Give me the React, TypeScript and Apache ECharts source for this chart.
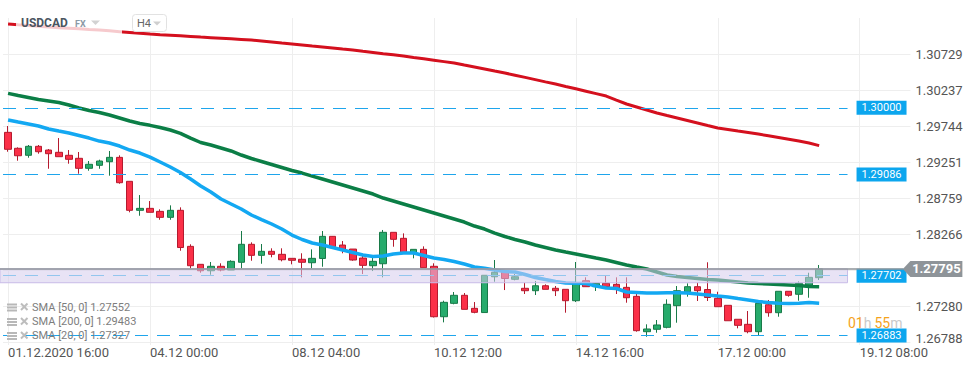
import React, { useEffect, useRef } from 'react';
import * as echarts from 'echarts';

const FONT = 'Roboto, "Noto Sans", sans-serif';

// x axis: H4 candle index, labelled every 14 candles
const xTickIdx = [0, 14, 28, 42, 56, 70, 84];
const xTickLabels = ['01.12.2020 16:00', '04.12 00:00', '08.12 04:00', '10.12 12:00', '14.12 16:00', '17.12 00:00', '19.12 08:00'];

// y axis tick labels
const yTicks = [1.26788, 1.2728, 1.27773, 1.28266, 1.28759, 1.29251, 1.29744, 1.30237, 1.30729];
const hiddenTick = 1.27773;

// candles
const open = [1.29664, 1.29446, 1.2935, 1.29473, 1.29422, 1.29391, 1.2935, 1.29309, 1.29172, 1.29213,
  1.29262, 1.29322, 1.28994, 1.28597, 1.28624, 1.28583, 1.28501, 1.28597, 1.28104, 1.27858,
  1.2777, 1.27831, 1.2778, 1.27886, 1.28132, 1.27981, 1.28036, 1.27995, 1.2794, 1.27927,
  1.2788, 1.27938, 1.28241, 1.28122, 1.28067, 1.27944, 1.27839, 1.27866, 1.28296, 1.28214,
  1.28009, 1.28063, 1.27831, 1.27141, 1.27324, 1.27434, 1.27256, 1.27198, 1.27688, 1.27749,
  1.27653, 1.2753, 1.27497, 1.27565, 1.2753, 1.27516, 1.2736, 1.27634, 1.27552, 1.27598,
  1.27584, 1.27543, 1.2742, 1.26936, 1.26969, 1.26996, 1.27292, 1.27483, 1.27552, 1.27513,
  1.27393, 1.27297, 1.27106, 1.27037, 1.26936, 1.27305, 1.27196, 1.27489, 1.27448, 1.27575,
  1.27675];
const close = [1.29432, 1.29344, 1.29473, 1.29399, 1.29372, 1.29331, 1.29295, 1.29172, 1.29227, 1.29272,
  1.29322, 1.28975, 1.28597, 1.28624, 1.2857, 1.28501, 1.28597, 1.28088, 1.27839, 1.2777,
  1.27831, 1.2778, 1.27899, 1.28132, 1.27981, 1.28036, 1.27995, 1.27921, 1.27913, 1.27886,
  1.2794, 1.28241, 1.28099, 1.28061, 1.27917, 1.27844, 1.27899, 1.28296, 1.282, 1.28009,
  1.28063, 1.27812, 1.27141, 1.27338, 1.27434, 1.27242, 1.27201, 1.27708, 1.27749, 1.27664,
  1.27688, 1.27497, 1.27565, 1.27516, 1.27497, 1.2736, 1.27606, 1.27552, 1.27598, 1.27552,
  1.2753, 1.27401, 1.2695, 1.26973, 1.27028, 1.27311, 1.27497, 1.27552, 1.27497, 1.27404,
  1.27278, 1.27086, 1.27023, 1.26936, 1.27324, 1.27196, 1.27489, 1.27434, 1.27598, 1.2768,
  1.27795];
const low = [1.29399, 1.29276, 1.29317, 1.29372, 1.29166, 1.29331, 1.29235, 1.29098, 1.29139, 1.29166,
  1.29071, 1.28961, 1.2857, 1.28523, 1.2857, 1.28468, 1.28468, 1.28044, 1.27801, 1.27743,
  1.27716, 1.27762, 1.2778, 1.27803, 1.27907, 1.27866, 1.27954, 1.27899, 1.27858, 1.2768,
  1.27803, 1.27825, 1.28088, 1.28009, 1.27907, 1.27725, 1.27766, 1.2768, 1.28099, 1.28009,
  1.2794, 1.27812, 1.2713, 1.27064, 1.27311, 1.27242, 1.27188, 1.27198, 1.2762, 1.27506,
  1.27639, 1.27452, 1.27438, 1.27516, 1.27424, 1.27196, 1.27342, 1.27552, 1.27493, 1.27552,
  1.27452, 1.27333, 1.26936, 1.26867, 1.26922, 1.26982, 1.27059, 1.27415, 1.27356, 1.27356,
  1.27278, 1.27086, 1.26982, 1.26914, 1.26881, 1.27141, 1.27141, 1.27415, 1.2736, 1.27401,
  1.27643];
const high = [1.29751, 1.29459, 1.29491, 1.29491, 1.29436, 1.29586, 1.29422, 1.29395, 1.29272, 1.2929,
  1.29409, 1.2935, 1.28994, 1.28806, 1.28724, 1.28611, 1.28665, 1.28638, 1.28132, 1.27858,
  1.2789, 1.27872, 1.27913, 1.28314, 1.28159, 1.28136, 1.28077, 1.28077, 1.2794, 1.28009,
  1.28063, 1.28314, 1.28245, 1.28177, 1.28067, 1.27972, 1.27944, 1.28328, 1.28296, 1.28282,
  1.28063, 1.28104, 1.27872, 1.2736, 1.27479, 1.27465, 1.27342, 1.27708, 1.27917, 1.27749,
  1.27725, 1.27606, 1.2763, 1.27584, 1.27561, 1.27516, 1.2789, 1.2768, 1.27598, 1.27712,
  1.2768, 1.2768, 1.27452, 1.27037, 1.27096, 1.27379, 1.27561, 1.27598, 1.27606, 1.27886,
  1.27483, 1.27297, 1.27106, 1.27219, 1.2737, 1.2737, 1.27489, 1.27489, 1.27625, 1.27743,
  1.27849];

// moving averages
const sma20 = [1.29833, 1.29805, 1.29778, 1.29751, 1.2971, 1.29682, 1.29655, 1.29621, 1.29586, 1.29545,
  1.29518, 1.29477, 1.29422, 1.29381, 1.29326, 1.29258, 1.2919, 1.29114, 1.29025, 1.2893,
  1.28847, 1.28752, 1.28683, 1.28615, 1.28533, 1.28471, 1.2841, 1.28341, 1.28259, 1.28198,
  1.2815, 1.28122, 1.28088, 1.28054, 1.2802, 1.27985, 1.27965, 1.27972, 1.27999, 1.28013,
  1.28013, 1.27979, 1.27944, 1.27924, 1.27896, 1.27862, 1.27821, 1.27803, 1.2778, 1.2776,
  1.27753, 1.27719, 1.27678, 1.2765, 1.27623, 1.27602, 1.27598, 1.27595, 1.27561, 1.27534,
  1.27527, 1.27479, 1.27472, 1.27465, 1.27465, 1.2747, 1.2747, 1.27465, 1.27452, 1.27438,
  1.27424, 1.27411, 1.2739, 1.2737, 1.27349, 1.27335, 1.27324, 1.27322, 1.27324, 1.27335,
  1.27327];
const sma50 = [1.30198, 1.30168, 1.30141, 1.30113, 1.30093, 1.30072, 1.30038, 1.29997, 1.29963, 1.29935,
  1.29901, 1.2986, 1.29819, 1.29785, 1.2976, 1.2973, 1.29696, 1.29651, 1.29586, 1.29525,
  1.29491, 1.2945, 1.29409, 1.29354, 1.29306, 1.29265, 1.29224, 1.29183, 1.29142, 1.29107,
  1.29066, 1.29025, 1.28984, 1.28943, 1.28902, 1.28861, 1.2882, 1.28765, 1.28724, 1.28683,
  1.28642, 1.28601, 1.2856, 1.28519, 1.28478, 1.28437, 1.28382, 1.28341, 1.28286, 1.28239,
  1.28198, 1.28163, 1.28122, 1.28088, 1.28054, 1.28026, 1.27999, 1.27972, 1.27944, 1.27917,
  1.27883, 1.27849, 1.27821, 1.27794, 1.27753, 1.27712, 1.27691, 1.27678, 1.27664, 1.2765,
  1.27643, 1.2763, 1.27616, 1.27602, 1.27595, 1.27589, 1.27582, 1.27575, 1.27568, 1.27554,
  1.27552];
const sma200 = [1.31146, 1.31135, 1.31126, 1.31115, 1.31105, 1.31097, 1.31089, 1.31081, 1.31072, 1.31064,
  1.31053, 1.31042, 1.31031, 1.3102, 1.3101, 1.31001, 1.30993, 1.30985, 1.30977, 1.30968,
  1.3096, 1.30952, 1.30944, 1.30936, 1.30927, 1.30914, 1.309, 1.30886, 1.30873, 1.30859,
  1.30845, 1.30832, 1.30818, 1.30804, 1.30791, 1.30774, 1.30758, 1.30741, 1.30725, 1.30709,
  1.30689, 1.3067, 1.30651, 1.30632, 1.30613, 1.30585, 1.30558, 1.30531, 1.30503, 1.30476,
  1.30446, 1.30416, 1.30386, 1.30355, 1.30325, 1.30292, 1.3026, 1.30227, 1.30194, 1.30161,
  1.30106, 1.30052, 1.30011, 1.2997, 1.29929, 1.29894, 1.2986, 1.29826, 1.29792, 1.29757,
  1.29723, 1.29703, 1.29682, 1.29662, 1.29641, 1.29617, 1.29593, 1.29569, 1.29545, 1.29518,
  1.29483];

// horizontal levels and band
const levels = [1.3, 1.29086, 1.27702, 1.26883];
const bandRange = [1.27606, 1.27795];
const currentPrice = 1.27795;
const legendRows = ['SMA [50, 0] 1.27552', 'SMA [200, 0] 1.29483', 'SMA [20, 0] 1.27327'];

const X_MIN = -0.5;
const X_MAX = 89;
const LINE_END = 82.8;
const BAND_START = -0.8;

function buildOption() {
  const candleData = open.map((o, i) => [i, o, close[i], low[i], high[i]]);
  const toPts = (arr: number[]) => arr.map((v, i) => [i, v]);

  const legendGraphics: any[] = [];
  const rowY = [307, 321.5, 335.5];
  legendRows.forEach((t, k) => {
    const y = rowY[k];
    [-3.5, -0.5, 2.5].forEach((dy) => {
      legendGraphics.push({ type: 'rect', z: 100, shape: { x: 7, y: y + dy, width: 10, height: 2 }, style: { fill: '#b8b8b8' } });
    });
    legendGraphics.push({ type: 'line', z: 100, shape: { x1: 21, y1: y - 3.5, x2: 27.5, y2: y + 3 }, style: { stroke: '#bdbdbd', lineWidth: 2 } });
    legendGraphics.push({ type: 'line', z: 100, shape: { x1: 27.5, y1: y - 3.5, x2: 21, y2: y + 3 }, style: { stroke: '#bdbdbd', lineWidth: 2 } });
    legendGraphics.push({
      type: 'text', z: 100, x: 32, y,
      style: { text: t, fill: '#7d7d7d', fontSize: 11, fontFamily: FONT, verticalAlign: 'middle', align: 'left' },
    });
  });

  return {
    animation: false,
    textStyle: { fontFamily: FONT },
    grid: { left: 3, right: 63.6, top: 18, bottom: 23, containLabel: false, outerBoundsMode: 'none' },
    xAxis: {
      type: 'value', min: X_MIN, max: X_MAX,
      axisLine: { show: false },
      axisTick: { show: false, customValues: xTickIdx },
      axisLabel: {
        customValues: xTickIdx,
        formatter: (v: number) => {
          const k = xTickIdx.indexOf(Math.round(v));
          return k >= 0 ? xTickLabels[k] : '';
        },
        align: 'left', margin: 1, color: '#555', fontSize: 13, fontFamily: FONT,
      },
      splitLine: { show: true, lineStyle: { color: '#eeeeee', width: 1 } },
    },
    yAxis: {
      type: 'value', position: 'right', min: 1.26754, max: 1.31229, scale: true,
      axisLine: { show: false },
      axisTick: { show: false, customValues: yTicks },
      axisLabel: {
        customValues: yTicks,
        formatter: (v: number) => {
          if (Math.abs(v - hiddenTick) < 1e-7) return '';
          if (Math.abs(v - yTicks[0]) < 1e-7) return '{low|' + v.toFixed(5) + '}';
          return v.toFixed(5);
        },
        rich: { low: { fontSize: 13, color: '#555', fontFamily: FONT, padding: [0, 0, 8, 0] } },
        margin: 5, color: '#555', fontSize: 13, fontFamily: FONT,
      },
      splitLine: { show: true, lineStyle: { color: '#eeeeee', width: 1 } },
    },
    series: [
      {
        type: 'candlestick', z: 2, barWidth: 7,
        encode: { x: 0, y: [1, 2, 3, 4] },
        data: candleData,
        itemStyle: { color: '#27ab6c', borderColor: '#187a48', color0: '#fb3048', borderColor0: '#b51a2e', borderWidth: 1 },
        markLine: {
          silent: true, symbol: ['none', 'none'], animation: false, z: 5,
          lineStyle: { type: [13, 9], color: '#1ea5ec', width: 1 },
          label: {
            show: true, position: 'end', distance: 9,
            formatter: (p: any) => p.name,
            color: '#fff', backgroundColor: '#0ca6ee', padding: [2, 5, 1, 5], fontSize: 11, fontFamily: FONT,
          },
          data: levels.map((v) => [
            {
              coord: [X_MIN, v], name: v.toFixed(5),
              lineStyle: { color: Math.abs(v - 1.27702) < 1e-7 ? '#93c6ee' : '#1ea5ec', type: [13, 9], width: 1 },
            },
            { coord: [LINE_END, v] },
          ]),
        },
      },
      { type: 'line', z: 3, data: toPts(sma200), showSymbol: false, symbol: 'none', lineStyle: { color: '#d4101e', width: 3 } },
      { type: 'line', z: 3, data: toPts(sma50), showSymbol: false, symbol: 'none', lineStyle: { color: '#0b7e46', width: 3.5 } },
      { type: 'line', z: 3, data: toPts(sma20), showSymbol: false, symbol: 'none', lineStyle: { color: '#13a8f2', width: 3.5 } },
      {
        type: 'custom', z: 4, clip: false, silent: true,
        data: [[BAND_START, LINE_END, bandRange[0], bandRange[1]]],
        renderItem: (params: any, api: any) => {
          const p1 = api.coord([api.value(0), api.value(3)]);
          const p2 = api.coord([api.value(1), api.value(2)]);
          return {
            type: 'rect',
            shape: { x: p1[0], y: p1[1], width: p2[0] - p1[0], height: p2[1] - p1[1] },
            style: { fill: 'rgba(213,204,237,0.55)', stroke: '#c8bce8', lineWidth: 1 },
          };
        },
      },
      {
        type: 'custom', z: 6, clip: false, silent: true,
        data: [[open.length - 1, currentPrice]],
        renderItem: (params: any, api: any) => {
          const y = api.coord([api.value(0), api.value(1)])[1];
          const cs = params.coordSys;
          const right = cs.x + cs.width;
          return {
            type: 'group',
            children: [
              { type: 'line', shape: { x1: cs.x - 3, y1: y, x2: right - 7, y2: y }, style: { stroke: '#8e9398', lineWidth: 1.5 } },
              {
                type: 'polygon',
                shape: { points: [[right - 7.5, y], [right, y - 8], [right + 52, y - 8], [right + 52, y + 8], [right, y + 8]] },
                style: { fill: '#8e9499' },
              },
              {
                type: 'text', x: right + 26, y,
                style: { text: currentPrice.toFixed(5), fill: '#fff', fontSize: 13, fontWeight: 'bold', fontFamily: FONT, align: 'center', verticalAlign: 'middle' },
              },
            ],
          };
        },
      },
    ],
    graphic: [
      { type: 'rect', z: 90, shape: { x: 16, y: 12, width: 106, height: 22 }, style: { fill: 'rgba(255,255,255,0.78)' } },
      { type: 'text', z: 100, x: 21, y: 23, style: { text: 'USDCAD', fill: '#4b5560', fontSize: 12, fontWeight: 'bold', fontFamily: FONT, verticalAlign: 'middle' } },
      { type: 'text', z: 100, x: 75, y: 24, style: { text: 'FX', fill: '#8b9aa6', fontSize: 9, fontWeight: 'bold', fontFamily: FONT, verticalAlign: 'middle' } },
      { type: 'polygon', z: 100, shape: { points: [[91, 20.5], [100, 20.5], [95.5, 25]] }, style: { fill: '#d2d2d2' } },
      { type: 'rect', z: 100, shape: { x: 132.5, y: 14.5, width: 34, height: 17, r: 3 }, style: { fill: '#ffffff', stroke: '#e2e2e2', lineWidth: 1 } },
      { type: 'text', z: 101, x: 137, y: 23.5, style: { text: 'H4', fill: '#666', fontSize: 11, fontFamily: FONT, verticalAlign: 'middle' } },
      { type: 'polygon', z: 101, shape: { points: [[153, 21.5], [161, 21.5], [157, 25.5]] }, style: { fill: '#cfcfcf' } },
      {
        type: 'text', z: 100, x: 848, y: 323,
        style: {
          text: '{o|01}{g|h} {o|55}{g|m}', fontFamily: FONT, verticalAlign: 'middle',
          rich: { o: { fill: '#f5a31c', fontSize: 14, fontFamily: FONT }, g: { fill: '#c9c9c9', fontSize: 14, fontFamily: FONT } },
        },
      },
      ...legendGraphics,
    ],
  };
}

export default function App() {
  const ref = useRef<HTMLDivElement>(null);
  useEffect(() => {
    if (!ref.current) return;
    const chart = echarts.init(ref.current, null, { renderer: 'svg' });
    chart.setOption(buildOption() as any);
    return () => chart.dispose();
  }, []);
  return <div ref={ref} style={{ position: 'absolute', left: 0, top: 0, width: 974, height: 368 }} />;
}
